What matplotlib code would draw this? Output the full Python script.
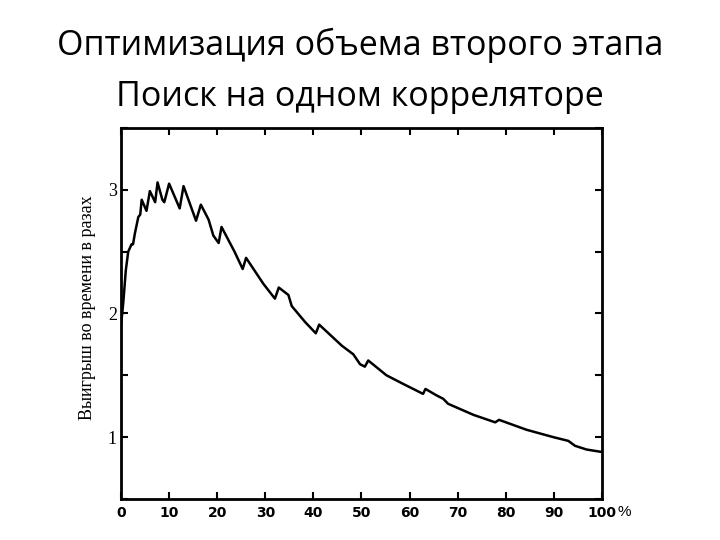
import matplotlib
matplotlib.use("Agg")
import matplotlib.pyplot as plt
import numpy as np

title_lines = ["Оптимизация объема второго этапа", "Поиск на одном корреляторе"]
ylabel = "Выигрыш во времени в разах"
xticks = [0, 10, 20, 30, 40, 50, 60, 70, 80, 90, 100]
xtick_labels = ["0", "10", "20", "30", "40", "50", "60", "70", "80", "90", "100"]
yticks_labeled = [1, 2, 3]
yticks_all = [0.5, 1.0, 1.5, 2.0, 2.5, 3.0, 3.5]

x_pct = [0, 0.5, 1.0, 1.5, 2.2, 2.5, 2.9, 3.6, 4.0, 4.3, 5.3, 6.0, 7.1, 7.6, 8.6,
         9.0, 10.0, 12.2, 13.0, 15.6, 16.6, 18.2, 19.2, 20.3, 20.9, 23.6, 25.3,
         26.0, 29.6, 32.0, 32.8, 34.8, 35.5, 38.3, 40.5, 41.2, 45.9, 48.3, 49.7,
         50.7, 51.4, 55.2, 58.7, 62.8, 63.3, 65.5, 67.0, 68.0, 73.3, 77.8, 78.6,
         84.3, 89.9, 93.0, 94.4, 96.8, 100.0]
gain = [1.90, 2.10, 2.35, 2.50, 2.56, 2.56, 2.65, 2.78, 2.80, 2.92, 2.83, 2.99,
        2.90, 3.06, 2.92, 2.90, 3.05, 2.85, 3.03, 2.75, 2.88, 2.76, 2.63, 2.57,
        2.70, 2.50, 2.36, 2.45, 2.24, 2.12, 2.21, 2.15, 2.06, 1.93, 1.84, 1.91,
        1.74, 1.67, 1.59, 1.57, 1.62, 1.50, 1.43, 1.35, 1.39, 1.34, 1.31, 1.27,
        1.18, 1.12, 1.14, 1.06, 1.00, 0.97, 0.93, 0.90, 0.88]

fig = plt.figure(figsize=(7.2, 5.4), dpi=100)
ax = fig.add_axes([121/720, 1 - 499/540, (602-121)/720, (499-128)/540])

ax.plot(x_pct, gain, color="black", lw=1.8)
ax.set_xlim(0, 100)
ax.set_ylim(0.5, 3.5)

ax.set_xticks(xticks)
ax.set_xticklabels(xtick_labels, fontfamily="Liberation Sans Narrow",
                   fontweight="bold", fontsize=10)
ax.set_yticks(yticks_all)
ax.set_yticklabels([str(int(v)) if v in yticks_labeled else "" for v in yticks_all],
                   fontfamily="Liberation Serif", fontsize=13)
ax.tick_params(direction="in", length=5, width=1.5, top=True, right=True, pad=3)
ax.tick_params(axis="x", pad=5)
for s in ax.spines.values():
    s.set_linewidth(2)

fig.text(618/720, 1 - 512/540, "%", fontfamily="Liberation Sans", fontsize=11,
         va="center", ha="left")

fig.text(88/720, 1 - 308/540, ylabel, rotation=90, ha="center", va="center",
         fontfamily="Liberation Serif", fontsize=13)

fig.text(0.5, 1 - 45/540, title_lines[0], ha="center", va="center",
         fontfamily="Open Sans", fontsize=24.5)
fig.text(0.5, 1 - 97/540, title_lines[1], ha="center", va="center",
         fontfamily="Open Sans", fontsize=24.5)

fig.savefig("out.png", dpi=100)
